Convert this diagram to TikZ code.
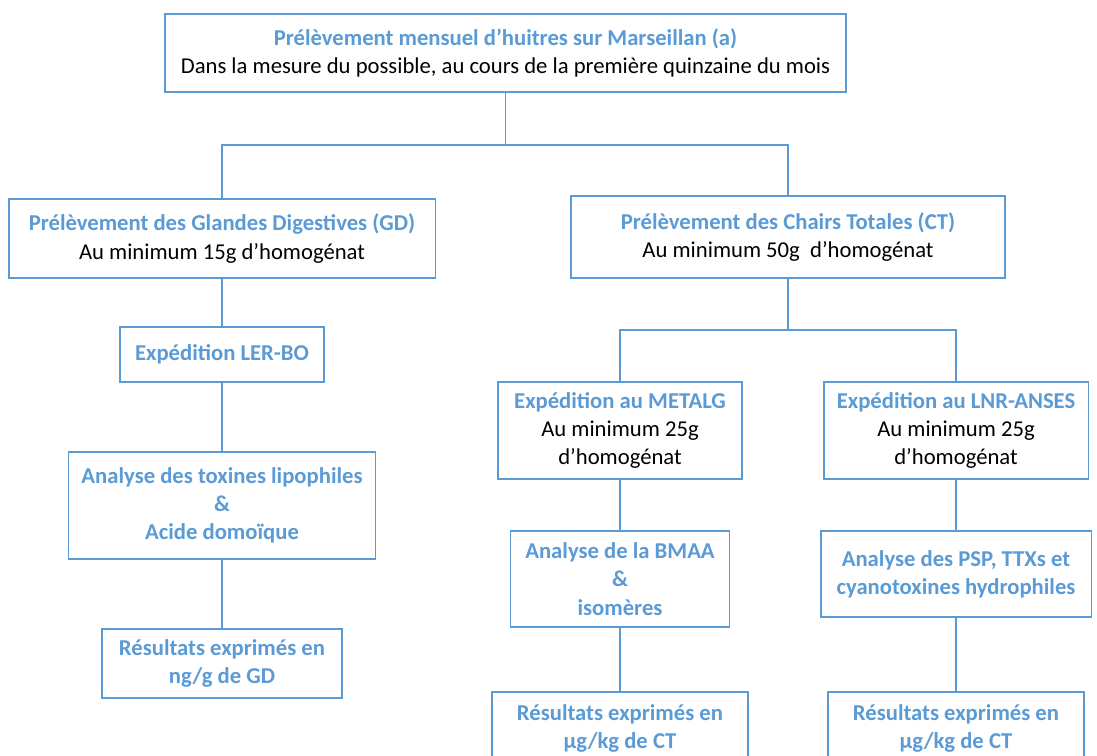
\documentclass[tikz,border=0pt]{standalone}
\usepackage{fontspec}
\setmainfont{Carlito}
\usepackage{tikz}
\definecolor{bleu}{HTML}{5B9BD5}
\newcommand{\titre}[1]{{\color{bleu}\bfseries #1}}
\tikzset{
	boite/.style={draw=bleu, line width=1.1pt, align=center, inner sep=0pt, fill=white,
		font=\fontsize{12.9}{16.1}\selectfont},
	boitebleue/.style={boite, text=bleu, font=\fontsize{12.9}{16.1}\selectfont\bfseries},
	lien/.style={draw=bleu, line width=0.8pt}
}

\begin{document}
\begin{tikzpicture}[x=0.02cm,y=-0.02cm]
					\useasboundingbox (0,0) rectangle (1097,756);
					\clip (0,0) rectangle (1097,756);
					\fill[white] (0,0) rectangle (1097,756);
					% Prelevement
					\node[boite, minimum width=13.62cm, minimum height=1.56cm] (haut) at (505.5,53)
					{\titre{Prélèvement mensuel d’huitres sur Marseillan (a)}\\
					Dans la mesure du possible, au cours de la première quinzaine du mois};
					\node[boite, minimum width=8.54cm, minimum height=1.58cm] (gd) at (222,238.5)
					{\titre{Prélèvement des Glandes Digestives (GD)}\\ Au minimum 15g d’homogénat};
					\node[boite, minimum width=8.68cm, minimum height=1.64cm] (ct) at (788,237)
					{\titre{Prélèvement des Chairs Totales (CT)}\\ Au minimum 50g\ \ d’homogénat};
					% Branche GD
					\node[boitebleue, minimum width=4.08cm, minimum height=1.10cm] (ler) at (222,354.5)
					{Expédition LER-BO};
					\node[boitebleue, minimum width=6.14cm, minimum height=2.14cm] (atl) at (222,505.5)
					{Analyse des toxines lipophiles\\ \&\\ Acide domoïque};
					\node[boitebleue, minimum width=4.80cm, minimum height=1.38cm] (rgd) at (222,663.5)
					{Résultats exprimés en\\ ng/g de GD};
					% Branche CT
					\node[boite, minimum width=4.88cm, minimum height=1.94cm] (met) at (620,430.5)
					{\titre{Expédition au METALG}\\ Au minimum 25g\\ d’homogénat};
					\node[boite, minimum width=5.30cm, minimum height=1.94cm] (lnr) at (956,430.5)
					{\titre{Expédition au LNR-ANSES}\\ Au minimum 25g\\ d’homogénat};
					\node[boitebleue, minimum width=4.38cm, minimum height=1.92cm] (bmaa) at (620,579)
					{Analyse de la BMAA\\ \&\\ isomères};
					\node[boitebleue, minimum width=5.42cm, minimum height=1.72cm] (psp) at (956,574)
					{Analyse des PSP, TTXs et\\ cyanotoxines hydrophiles};
					\node[boitebleue, minimum width=5.12cm, minimum height=1.46cm] (rct1) at (620,728.5)
					{Résultats exprimés en\\ µg/kg de CT};
					\node[boitebleue, minimum width=5.12cm, minimum height=1.46cm] (rct2) at (956,728.5)
					{Résultats exprimés en\\ µg/kg de CT};
					% Liens
					\coordinate (j1) at (505.5,145);
					\coordinate (j2) at (788,330);
					\draw[lien] (haut.south) -- (j1) -| (gd.north);
					\draw[lien] (j1) -| (ct.north);
					\draw[lien] (ct.south) -- (j2) -| (met.north);
					\draw[lien] (j2) -| (lnr.north);
					\foreach \a/\b in {gd/ler, ler/atl, atl/rgd, met/bmaa, bmaa/rct1, lnr/psp, psp/rct2}
					\draw[lien] (\a) -- (\b);
				\end{tikzpicture}
\end{document}
